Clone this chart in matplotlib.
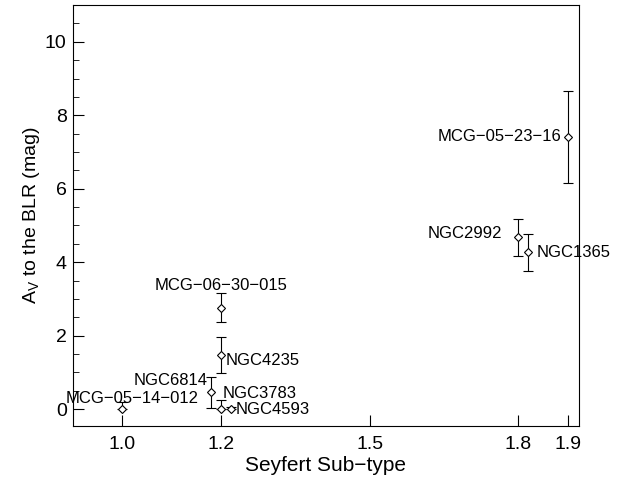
import matplotlib
matplotlib.use('Agg')
import numpy as np
from matplotlib import pyplot as plt

plt.rcParams['font.family'] = ['Liberation Sans', 'DejaVu Sans']

# Seyfert sub-type vs A_V to the BLR
names = ['MCG\u221205\u221214\u2212012', 'NGC6814', 'NGC3783', 'NGC4593', 'NGC4235',
         'MCG\u221206\u221230\u2212015', 'NGC2992', 'NGC1365', 'MCG\u221205\u221223\u221216']
subtype = [1.0, 1.18, 1.2, 1.22, 1.2, 1.2, 1.8, 1.82, 1.9]
av = [0.0, 0.47, 0.0, 0.0, 1.47, 2.76, 4.68, 4.27, 7.42]
err_lo = [0.0, 0.43, 0.0, 0.0, 0.5, 0.4, 0.5, 0.5, 1.27]
err_hi = [0.2, 0.4, 0.25, 0.05, 0.48, 0.39, 0.5, 0.5, 1.25]

# label offsets (points) and alignment
offs = [(7, 2, 'center', 'bottom'), (-3, 8, 'right', 'center'), (1, 11, 'left', 'center'),
        (3, 0, 'left', 'center'), (3, -4, 'left', 'center'), (0, 16, 'center', 'center'),
        (-12, 3, 'right', 'center'), (6, 0, 'left', 'center'), (-4.5, 0, 'right', 'center')]

fig = plt.figure(figsize=(6.23, 4.8), dpi=100)
ax = fig.add_axes([0.117, 0.1125, 0.812, 0.877])

ax.errorbar(subtype, av, yerr=[err_lo, err_hi], fmt='D', ms=4, mfc='white', mec='black',
            mew=0.8, ecolor='black', elinewidth=0.8, capsize=3.5, capthick=0.8)

for n, x, y, o in zip(names, subtype, av, offs):
    ax.annotate(n, (x, y), xytext=(o[0], o[1]), textcoords='offset points',
                ha=o[2], va=o[3], fontsize=12)

ax.set_xlim(0.9, 1.922)
ax.set_ylim(-0.46, 11.0)
ax.set_xticks([1.0, 1.2, 1.5, 1.8, 1.9])
ax.set_xticklabels(['1.0', '1.2', '1.5', '1.8', '1.9'])
ax.set_yticks([0, 2, 4, 6, 8, 10])
ax.set_yticks(np.arange(0, 11, 0.5), minor=True)
ax.tick_params(direction='in', length=8, labelsize=14)
ax.tick_params(axis='y', pad=4.5)
ax.tick_params(axis='x', pad=7.5)
ax.tick_params(which='minor', direction='in', length=4)
ax.tick_params(axis='x', which='minor', bottom=False)
ax.set_xlabel('Seyfert Sub\u2212type', fontsize=15, labelpad=2)
ax.set_ylabel('A$_\\mathregular{V}$ to the BLR (mag)', fontsize=14, labelpad=2)

plt.savefig('out.png', dpi=100)
